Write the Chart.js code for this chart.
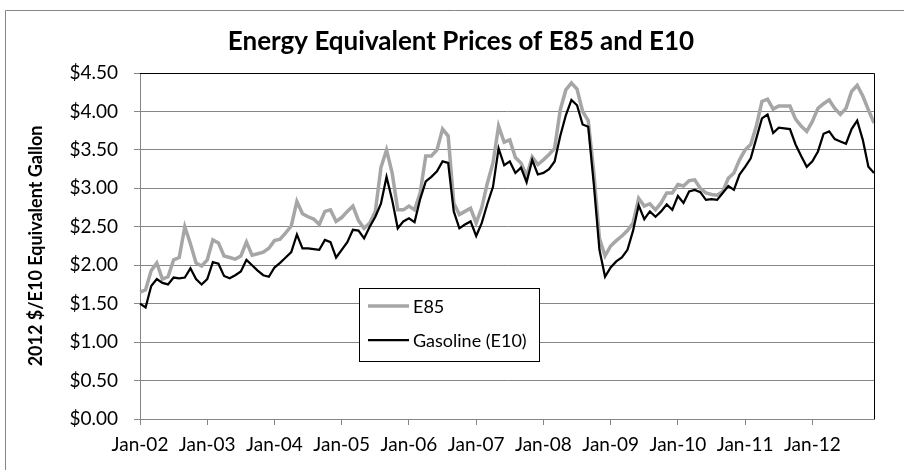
<!DOCTYPE html>
<html>
<head>
<meta charset="utf-8">
<title>Energy Equivalent Prices of E85 and E10</title>
<script src="https://cdn.jsdelivr.net/npm/chart.js@4.4.1/dist/chart.umd.min.js"></script>
<style>
  html, body { margin: 0; padding: 0; background: #fff; }
  #priceChart { display: block; }
</style>
</head>
<body>
<canvas id="priceChart" width="904" height="470"></canvas>
<script>
// Axis categories: one point per month, Jan-02 .. Dec-12
const years = ['02', '03', '04', '05', '06', '07', '08', '09', '10', '11', '12'];
const monthNames = ['Jan', 'Feb', 'Mar', 'Apr', 'May', 'Jun', 'Jul', 'Aug', 'Sep', 'Oct', 'Nov', 'Dec'];

// E85 price, 2012 $ per E10 equivalent gallon
const e85Prices = [
  1.65, 1.68, 1.93, 2.03, 1.82, 1.85, 2.07, 2.10, 2.50, 2.28, 2.03, 1.99,
  2.07, 2.33, 2.29, 2.12, 2.10, 2.08, 2.12, 2.30, 2.13, 2.15, 2.17, 2.22,
  2.32, 2.34, 2.42, 2.51, 2.83, 2.67, 2.63, 2.60, 2.53, 2.70, 2.72, 2.57,
  2.62, 2.70, 2.77, 2.58, 2.48, 2.55, 2.70, 3.27, 3.50, 3.20, 2.72, 2.72,
  2.77, 2.72, 2.94, 3.42, 3.42, 3.50, 3.77, 3.68, 2.81, 2.66, 2.70, 2.74,
  2.55, 2.75, 3.07, 3.33, 3.81, 3.60, 3.63, 3.40, 3.33, 3.16, 3.41, 3.31,
  3.37, 3.44, 3.52, 4.02, 4.28, 4.37, 4.29, 4.00, 3.88, 3.20, 2.35, 2.12,
  2.25, 2.32, 2.38, 2.45, 2.55, 2.87, 2.77, 2.80, 2.72, 2.81, 2.94, 2.94,
  3.05, 3.03, 3.10, 3.11, 3.00, 2.94, 2.92, 2.91, 2.96, 3.13, 3.20, 3.37,
  3.50, 3.57, 3.81, 4.13, 4.16, 4.03, 4.07, 4.07, 4.07, 3.90, 3.81, 3.74,
  3.87, 4.04, 4.10, 4.15, 4.04, 3.96, 4.04, 4.26, 4.34, 4.20, 4.02, 3.85
];

// Gasoline (E10) price, 2012 $ per gallon
const gasolinePrices = [
  1.50, 1.45, 1.73, 1.82, 1.77, 1.75, 1.84, 1.83, 1.84, 1.96, 1.82, 1.75,
  1.82, 2.04, 2.02, 1.86, 1.83, 1.87, 1.92, 2.07, 2.00, 1.93, 1.87, 1.85,
  1.97, 2.03, 2.10, 2.17, 2.40, 2.22, 2.22, 2.21, 2.20, 2.33, 2.30, 2.10,
  2.20, 2.30, 2.46, 2.45, 2.35, 2.50, 2.63, 2.80, 3.15, 2.85, 2.48, 2.57,
  2.61, 2.56, 2.86, 3.09, 3.15, 3.22, 3.35, 3.33, 2.70, 2.48, 2.53, 2.57,
  2.38, 2.55, 2.80, 3.02, 3.52, 3.30, 3.35, 3.20, 3.27, 3.08, 3.37, 3.18,
  3.20, 3.25, 3.35, 3.68, 3.95, 4.15, 4.08, 3.83, 3.80, 3.05, 2.20, 1.85,
  1.97, 2.05, 2.10, 2.20, 2.45, 2.78, 2.60, 2.70, 2.63, 2.70, 2.79, 2.72,
  2.90, 2.81, 2.96, 2.98, 2.95, 2.85, 2.86, 2.85, 2.94, 3.03, 2.98, 3.18,
  3.28, 3.39, 3.65, 3.91, 3.96, 3.72, 3.79, 3.78, 3.77, 3.57, 3.42, 3.28,
  3.35, 3.48, 3.71, 3.74, 3.64, 3.61, 3.58, 3.77, 3.88, 3.63, 3.28, 3.20
];

const monthLabels = [];
years.forEach(function (y) {
  monthNames.forEach(function (m) { monthLabels.push(m + '-' + y); });
});

const GRID = '#868686';
const FONT = 'Lato, "Open Sans", sans-serif';

// Outer frame, title, plot border and the legend box inside the plot
const decorations = {
  id: 'decorations',
  beforeDraw(chart) {
    const c = chart.ctx;
    c.save();
    c.fillStyle = '#fff';
    c.fillRect(0, 0, chart.width, chart.height);
    c.strokeStyle = GRID;
    c.lineWidth = 1;
    c.beginPath();
    c.moveTo(5.5, chart.height);
    c.lineTo(5.5, 10.5);
    c.lineTo(chart.width, 10.5);
    c.stroke();
    c.restore();
  },
  afterDraw(chart) {
    const c = chart.ctx;
    const a = chart.chartArea;
    c.save();

    // plot area border (top and right)
    c.strokeStyle = '#000';
    c.lineWidth = 1;
    c.beginPath();
    c.moveTo(Math.round(a.left), Math.round(a.top) + 0.5);
    c.lineTo(Math.round(a.right) + 0.5, Math.round(a.top) + 0.5);
    c.lineTo(Math.round(a.right) + 0.5, Math.round(a.bottom));
    c.stroke();

    // title
    c.fillStyle = '#000';
    c.font = 'bold 26px ' + FONT;
    c.textAlign = 'center';
    c.textBaseline = 'alphabetic';
    c.fillText('Energy Equivalent Prices of E85 and E10', 461, 50);

    // legend
    const lx = 359, ly = 288, lw = 180, lh = 73;
    c.fillStyle = '#fff';
    c.fillRect(lx, ly, lw, lh);
    c.strokeStyle = '#000';
    c.strokeRect(lx + 0.5, ly + 0.5, lw, lh);
    const items = chart.data.datasets;
    const rows = [306, 340];
    items.forEach(function (ds, k) {
      c.strokeStyle = ds.borderColor;
      c.lineWidth = ds.borderWidth;
      c.beginPath();
      c.moveTo(368, rows[k]);
      c.lineTo(409, rows[k]);
      c.stroke();
      c.fillStyle = '#000';
      c.font = '18px ' + FONT;
      c.textAlign = 'left';
      c.textBaseline = 'middle';
      c.fillText(ds.label, 413, rows[k] + 1);
    });
    c.restore();
  }
};

const ctx = document.getElementById('priceChart').getContext('2d');
const priceChart = new Chart(ctx, {
  type: 'line',
  data: {
    labels: monthLabels,
    datasets: [{
      label: 'E85',
      data: e85Prices,
      borderColor: '#a6a6a6',
      borderWidth: 3.5,
      pointRadius: 0,
      tension: 0,
      order: 2
    }, {
      label: 'Gasoline (E10)',
      data: gasolinePrices,
      borderColor: '#000000',
      borderWidth: 2.25,
      pointRadius: 0,
      tension: 0,
      order: 1
    }]
  },
  options: {
    responsive: false,
    animation: false,
    devicePixelRatio: 1,
    layout: { padding: { left: 25, right: 30, top: 73, bottom: 0 } },
    plugins: {
      legend: { display: false },
      title: { display: false },
      tooltip: { enabled: false }
    },
    scales: {
      x: {
        type: 'category',
        offset: false,
        afterFit: function (scale) { scale.height = 51; },
        border: { display: true, color: GRID, width: 1 },
        grid: {
          drawOnChartArea: false,
          drawTicks: true,
          tickLength: 6,
          color: function (c) { return c.index % 12 === 0 ? GRID : 'rgba(0,0,0,0)'; }
        },
        ticks: {
          autoSkip: false,
          maxRotation: 0,
          minRotation: 0,
          padding: 8,
          color: '#000',
          font: { family: FONT, size: 19 },
          callback: function (v, i) { return i % 12 === 0 ? monthLabels[i] : ''; }
        }
      },
      y: {
        min: 0,
        max: 4.5,
        afterFit: function (scale) { scale.width = 115; },
        border: { display: true, color: GRID, width: 1 },
        grid: { color: GRID, tickLength: 6, drawTicks: true },
        ticks: {
          stepSize: 0.5,
          padding: 16,
          color: '#000',
          font: { family: FONT, size: 19 },
          callback: function (v) { return '$' + Number(v).toFixed(2); }
        },
        title: {
          display: true,
          text: '2012 $/E10 Equivalent Gallon',
          color: '#000',
          padding: { top: 0, bottom: 0 },
          font: { family: FONT, size: 18, weight: 'bold' }
        }
      }
    }
  },
  plugins: [decorations]
});
</script>
</body>
</html>
